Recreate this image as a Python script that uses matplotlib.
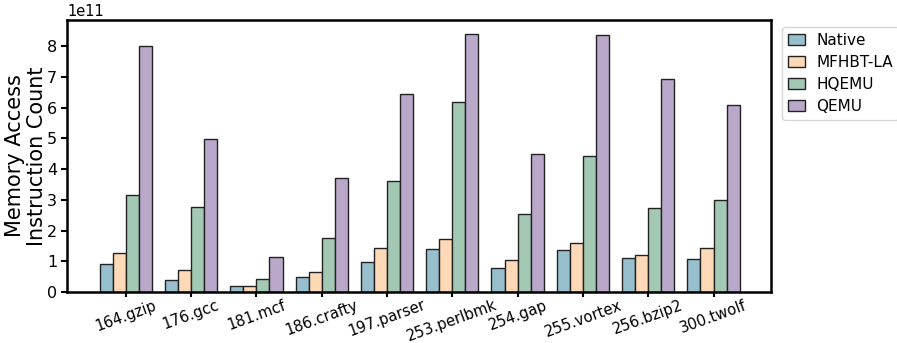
import matplotlib
matplotlib.use("Agg")
import matplotlib.pyplot as plt
import numpy as np

categories = ["164.gzip", "176.gcc", "181.mcf", "186.crafty", "197.parser",
              "253.perlbmk", "254.gap", "255.vortex", "256.bzip2", "300.twolf"]
series_names = ["Native", "MFHBT-LA", "HQEMU", "QEMU"]
native = [0.92, 0.40, 0.195, 0.49, 0.99, 1.40, 0.77, 1.38, 1.09, 1.06]
mfhbt = [1.26, 0.70, 0.195, 0.66, 1.43, 1.71, 1.05, 1.61, 1.19, 1.44]
hqemu = [3.15, 2.75, 0.41, 1.75, 3.60, 6.18, 2.54, 4.44, 2.74, 3.00]
qemu = [8.01, 4.99, 1.13, 3.71, 6.45, 8.41, 4.49, 8.37, 6.93, 6.10]
scale = 1e11

colors = ["#98bfcd", "#fed9b7", "#a3c9b4", "#baa8ca"]

fig = plt.figure(figsize=(8.97, 3.43), dpi=100)
ax = fig.add_axes([67/897, 1 - 292/343, (771-67)/897, (292-20)/343])

x = np.arange(len(categories))
w = 0.2
all_series = [native, mfhbt, hqemu, qemu]
for i, (name, vals, c) in enumerate(zip(series_names, all_series, colors)):
    ax.bar(x + (i - 1.5) * w, np.array(vals) * scale, width=w, color=c,
           edgecolor="#222222", linewidth=1.0, label=name)

ax.set_xlim(-0.9, 9.88)
ax.set_ylim(0, 8.85e11)
ax.set_yticks(np.arange(0, 9) * 1e11)
ax.set_xticks(x)
ax.set_xticklabels(categories, rotation=20, ha="center", fontsize=10.7)
ax.tick_params(axis="y", labelsize=11.5, width=1.5, length=4.5, pad=2.5)
ax.tick_params(axis="x", width=1.5, length=3.5, pad=0.5)
for s in ax.spines.values():
    s.set_linewidth(1.8)
ax.yaxis.get_offset_text().set_fontsize(10.5)
ax.set_ylabel("Memory Access\nInstruction Count", fontsize=15, labelpad=0,
              linespacing=1.1)

ax.legend(loc="upper left", bbox_to_anchor=(1.0156, 0.974), fontsize=11,
          frameon=True, borderaxespad=0.0, handlelength=1.1,
          handletextpad=0.75, labelspacing=0.45, borderpad=0.4)

fig.savefig("out.png", dpi=100)
